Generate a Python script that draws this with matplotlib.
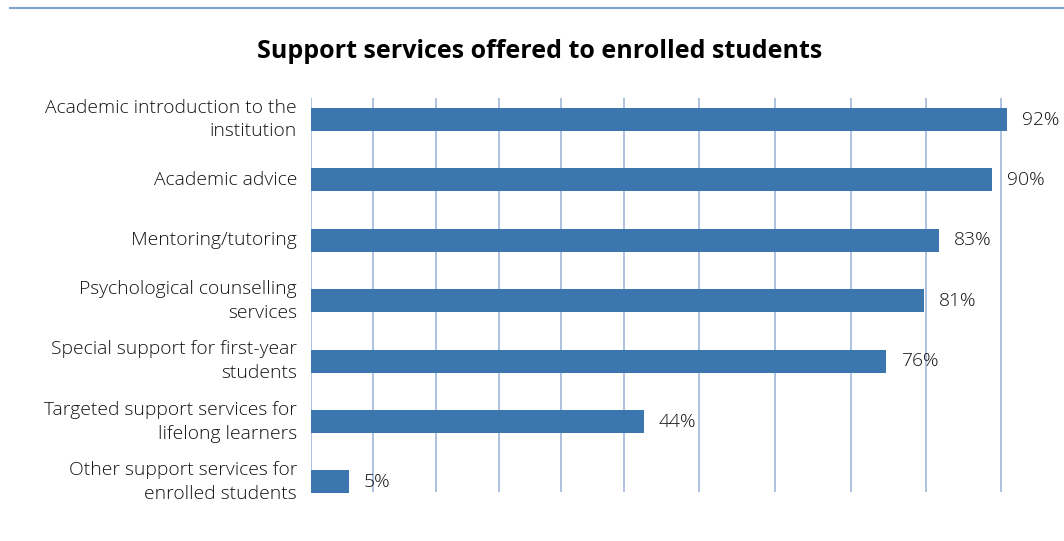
import matplotlib.pyplot as plt
from matplotlib.lines import Line2D

# =================================
# DATA
# =================================

services = [
    "Academic introduction to the\ninstitution",
    "Academic advice",
    "Mentoring/tutoring",
    "Psychological counselling\nservices",
    "Special support for first-year\nstudents",
    "Targeted support services for\nlifelong learners",
    "Other support services for\nenrolled students",
]
share = [92, 90, 83, 81, 76, 44, 5]
value_labels = ["92%", "90%", "83%", "81%", "76%", "44%", "5%"]

# vertical grid positions (in % units) as laid out in the original layout
grid_positions = [0, 8.25, 16.5, 24.8, 33.1, 41.4, 51.3, 61.4, 71.4, 81.3, 91.3]

BAR_COLOR = "#3b76af"
GRID_COLOR = "#a9bcdd"
TEXT_COLOR = "#141414"
FONT = ["Open Sans", "DejaVu Sans"]
LABEL_SIZE = 13.9

# =================================
# FIGURE
# =================================

W, H = 1064, 541
fig = plt.figure(figsize=(W / 100, H / 100), dpi=100)

left_px, right_px = 311, 1010
top_px, bottom_px = 98, 492
ax = fig.add_axes([left_px / W, 1 - bottom_px / H,
                   (right_px - left_px) / W, (bottom_px - top_px) / H])

ypos = list(range(len(services)))
ax.barh(ypos, share, height=0.38, color=BAR_COLOR, zorder=3, clip_on=False)

for x in grid_positions:
    ax.axvline(x, color=GRID_COLOR, linewidth=1.3, zorder=1)

ax.set_xlim(0, (right_px - left_px) / 7.562)
ax.set_ylim(6.166, -0.356)

for s in ax.spines.values():
    s.set_visible(False)
ax.set_xticks([])
ax.set_yticks(ypos)
ax.set_yticklabels(services, family=FONT, fontweight="light", fontsize=LABEL_SIZE,
                   color=TEXT_COLOR, linespacing=1.42)
ax.tick_params(axis="y", length=0, pad=10)
for lbl in ax.get_yticklabels():
    lbl.set_horizontalalignment("right")
    lbl.set_multialignment("right")
    lbl.set_verticalalignment("center")

# value labels at the end of each bar
for y, v, txt in zip(ypos, share, value_labels):
    ax.annotate(txt, xy=(v, y), xytext=(11, 0), textcoords="offset points",
                ha="left", va="center", family=FONT, fontweight="light",
                fontsize=LABEL_SIZE, color=TEXT_COLOR, annotation_clip=False, zorder=4)

# title and top rule
fig.text(540 / W, 1 - 51 / H, "Support services offered to enrolled students",
         ha="center", va="center", family=FONT, fontweight="bold",
         fontsize=18, color="black")
fig.add_artist(Line2D([10 / W, 1], [1 - 8 / H, 1 - 8 / H],
                      transform=fig.transFigure, color="#7fa3c9", linewidth=1.5))

fig.savefig("out.png", dpi=100)
